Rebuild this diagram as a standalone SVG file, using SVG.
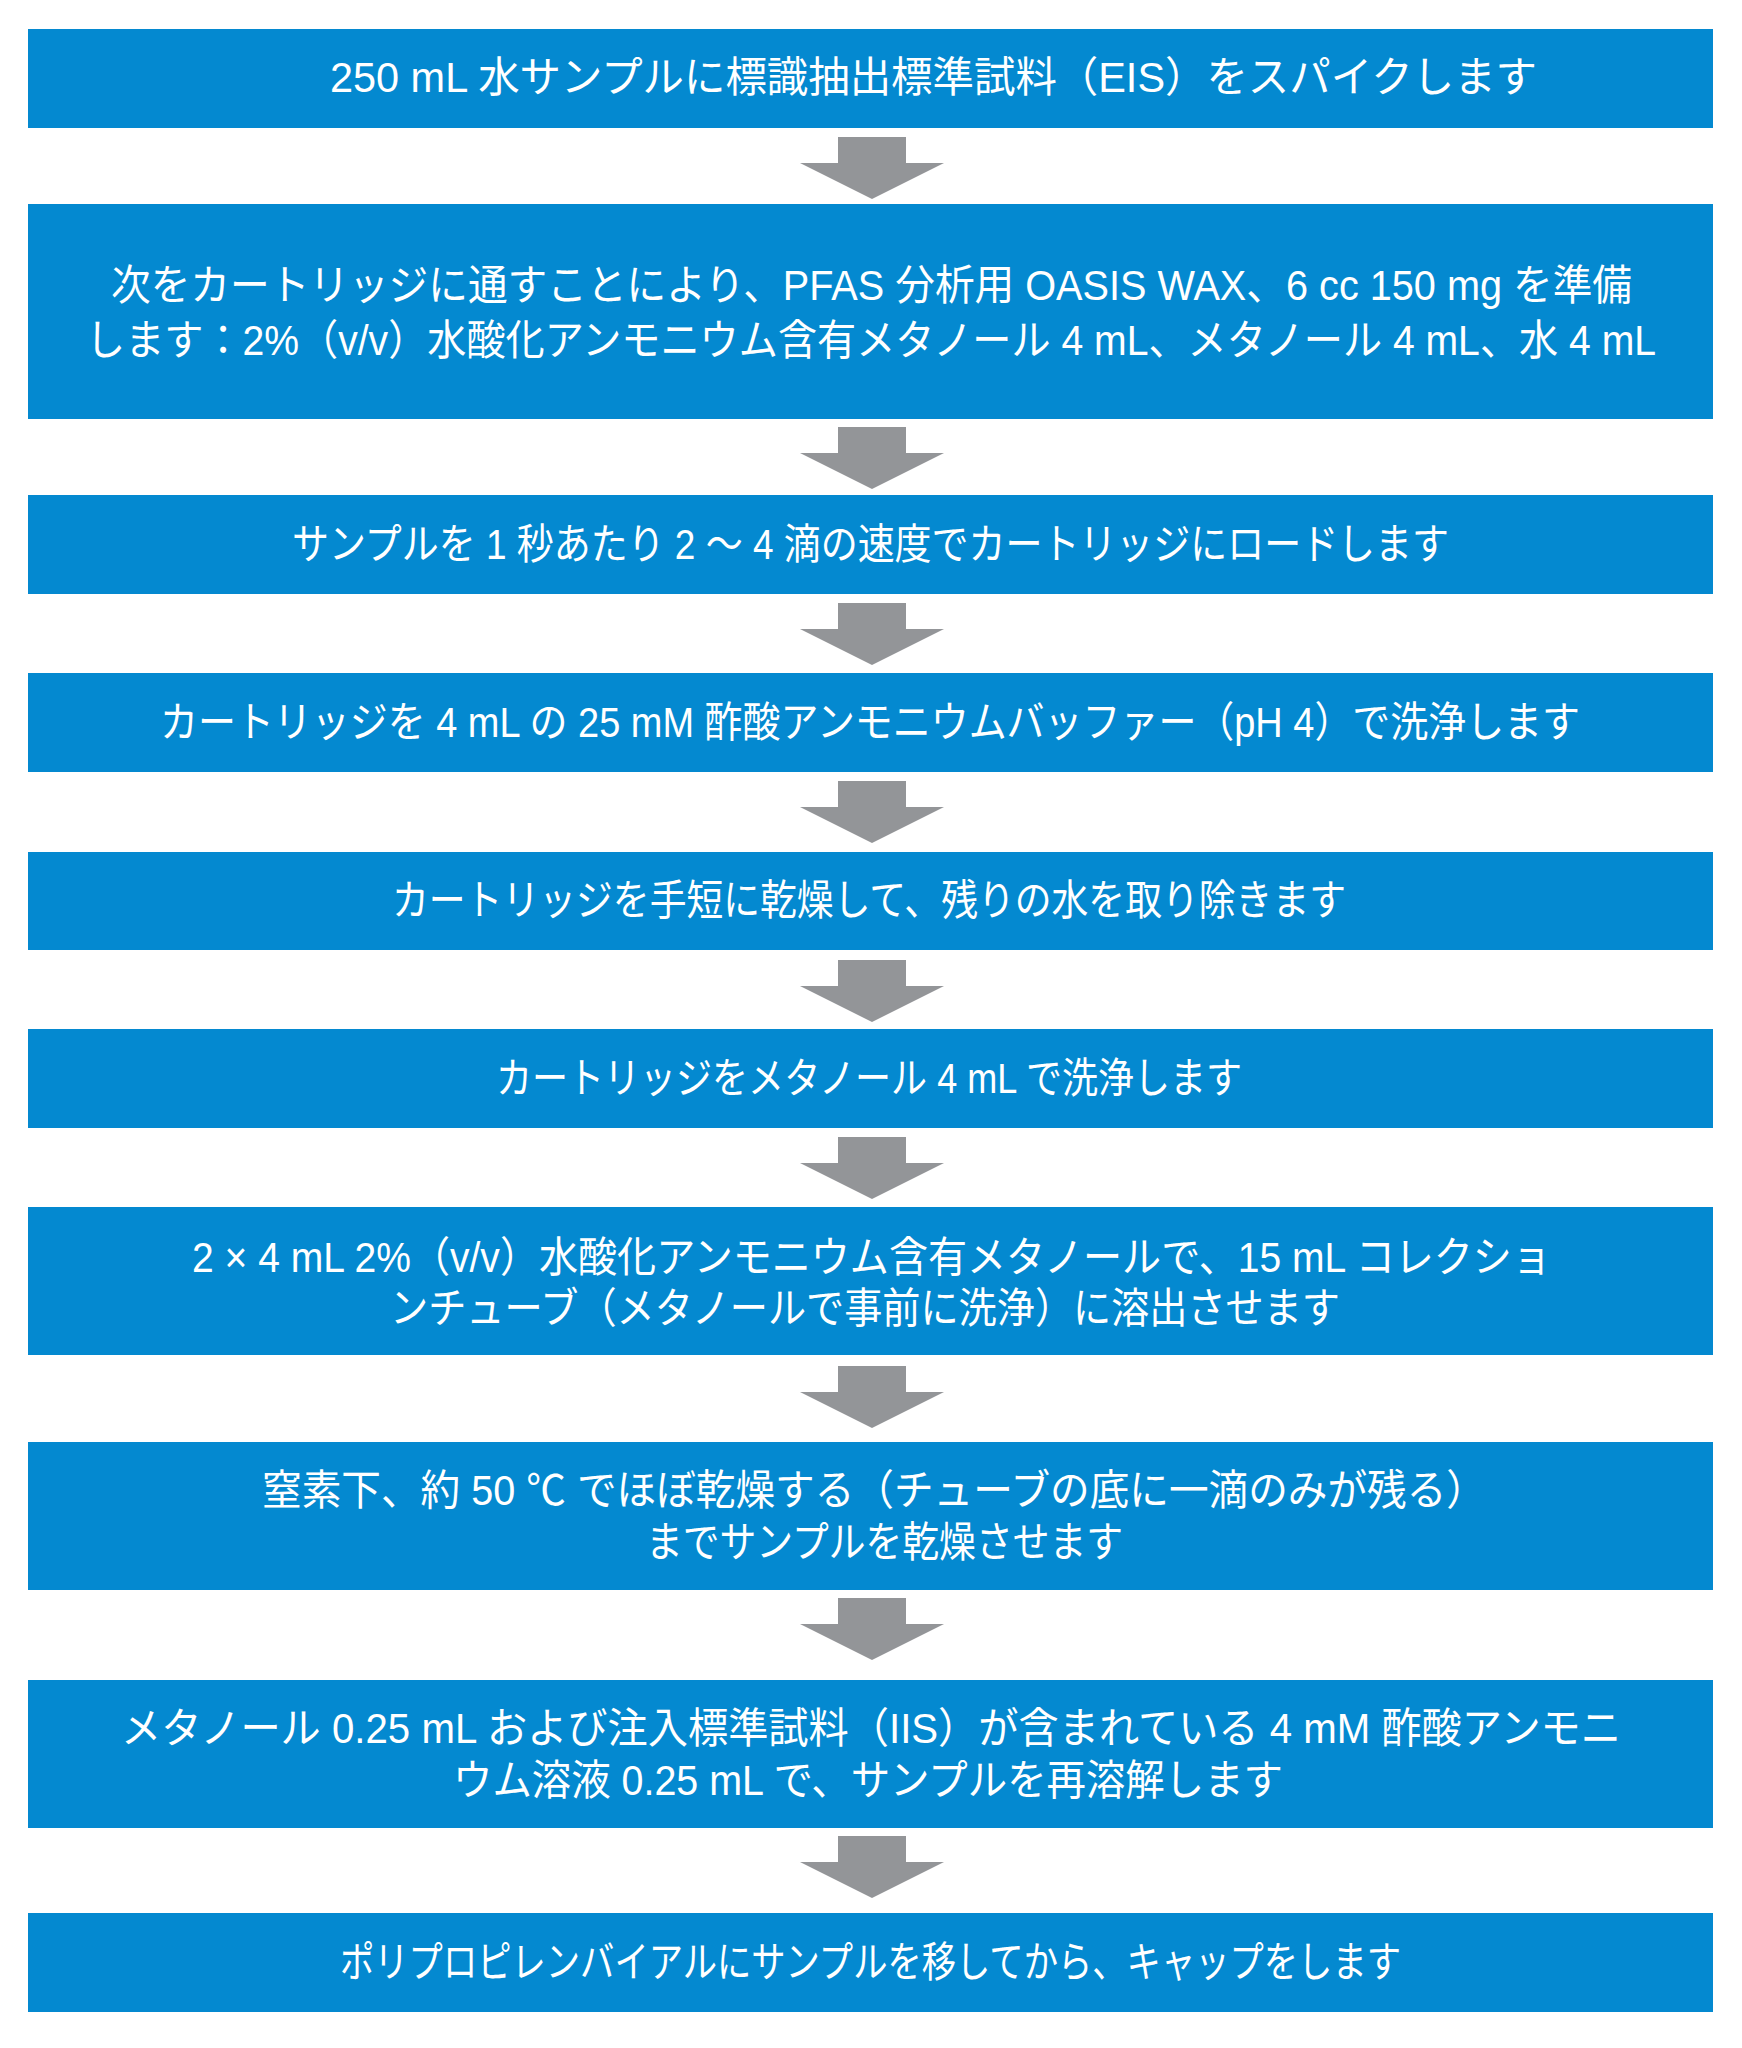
<svg xmlns="http://www.w3.org/2000/svg" width="1742" height="2048" viewBox="0 0 1742 2048">
<style>
.box{fill:#0489d0}
.t{font-family:"Liberation Sans","Noto Sans CJK JP",sans-serif;font-size:42px;fill:#ffffff}
.arr{fill:#939598}
</style>
<rect x="0" y="0" width="1742" height="2048" fill="#ffffff"/>
<g id="connectors">
<path class="arr" d="M838,137H906V163H944L872,199L800,163H838Z"/>
<path class="arr" d="M838,427H906V453H944L872,489L800,453H838Z"/>
<path class="arr" d="M838,603H906V629H944L872,665L800,629H838Z"/>
<path class="arr" d="M838,781H906V807H944L872,843L800,807H838Z"/>
<path class="arr" d="M838,960H906V986H944L872,1022L800,986H838Z"/>
<path class="arr" d="M838,1137H906V1163H944L872,1199L800,1163H838Z"/>
<path class="arr" d="M838,1366H906V1392H944L872,1428L800,1392H838Z"/>
<path class="arr" d="M838,1598H906V1624H944L872,1660L800,1624H838Z"/>
<path class="arr" d="M838,1836H906V1862H944L872,1898L800,1862H838Z"/>
</g>
<g id="step1">
<rect class="box" x="28" y="29" width="1685" height="99"/>
<text class="t" x="330" y="92" textLength="1207" lengthAdjust="spacingAndGlyphs">250 mL 水サンプルに標識抽出標準試料（EIS）をスパイクします</text>
</g>
<g id="step2">
<rect class="box" x="28" y="204" width="1685" height="215"/>
<text class="t" x="111" y="300" textLength="1521" lengthAdjust="spacingAndGlyphs">次をカートリッジに通すことにより、PFAS 分析用 OASIS WAX、6 cc 150 mg を準備</text>
<text class="t" x="86" y="355" textLength="1570" lengthAdjust="spacingAndGlyphs">します：2%（v/v）水酸化アンモニウム含有メタノール 4 mL、メタノール 4 mL、水 4 mL</text>
</g>
<g id="step3">
<rect class="box" x="28" y="495" width="1685" height="99"/>
<text class="t" x="292" y="559" textLength="1157" lengthAdjust="spacingAndGlyphs">サンプルを 1 秒あたり 2 ～ 4 滴の速度でカートリッジにロードします</text>
</g>
<g id="step4">
<rect class="box" x="28" y="673" width="1685" height="99"/>
<text class="t" x="160" y="737" textLength="1420" lengthAdjust="spacingAndGlyphs">カートリッジを 4 mL の 25 mM 酢酸アンモニウムバッファー（pH 4）で洗浄します</text>
</g>
<g id="step5">
<rect class="box" x="28" y="852" width="1685" height="98"/>
<text class="t" x="392" y="915" textLength="954" lengthAdjust="spacingAndGlyphs">カートリッジを手短に乾燥して、残りの水を取り除きます</text>
</g>
<g id="step6">
<rect class="box" x="28" y="1029" width="1685" height="99"/>
<text class="t" x="496" y="1093" textLength="746" lengthAdjust="spacingAndGlyphs">カートリッジをメタノール 4 mL で洗浄します</text>
</g>
<g id="step7">
<rect class="box" x="28" y="1207" width="1685" height="148"/>
<text class="t" x="192" y="1272" textLength="1359" lengthAdjust="spacingAndGlyphs">2 × 4 mL 2%（v/v）水酸化アンモニウム含有メタノールで、15 mL コレクショ</text>
<text class="t" x="390" y="1323" textLength="950" lengthAdjust="spacingAndGlyphs">ンチューブ（メタノールで事前に洗浄）に溶出させます</text>
</g>
<g id="step8">
<rect class="box" x="28" y="1442" width="1685" height="148"/>
<text class="t" x="262" y="1505" textLength="1224" lengthAdjust="spacingAndGlyphs">窒素下、約 50 ℃ でほぼ乾燥する（チューブの底に一滴のみが残る）</text>
<text class="t" x="646" y="1557" textLength="477" lengthAdjust="spacingAndGlyphs">までサンプルを乾燥させます</text>
</g>
<g id="step9">
<rect class="box" x="28" y="1680" width="1685" height="148"/>
<text class="t" x="121" y="1743" textLength="1500" lengthAdjust="spacingAndGlyphs">メタノール 0.25 mL および注入標準試料（IIS）が含まれている 4 mM 酢酸アンモニ</text>
<text class="t" x="453" y="1795" textLength="830" lengthAdjust="spacingAndGlyphs">ウム溶液 0.25 mL で、サンプルを再溶解します</text>
</g>
<g id="step10">
<rect class="box" x="28" y="1913" width="1685" height="99"/>
<text class="t" x="340" y="1977" textLength="1061" lengthAdjust="spacingAndGlyphs">ポリプロピレンバイアルにサンプルを移してから、キャップをします</text>
</g>
</svg>
